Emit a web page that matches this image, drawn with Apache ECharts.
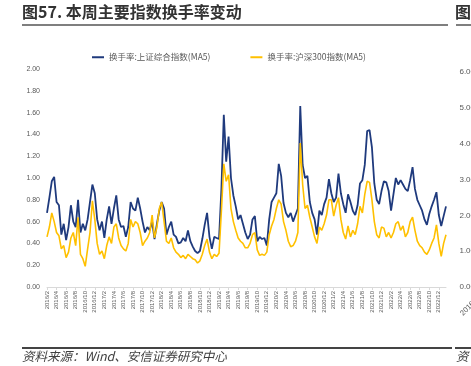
<!DOCTYPE html>
<html>
<head>
<meta charset="utf-8">
<script src="https://cdn.jsdelivr.net/npm/echarts@6.0.0/dist/echarts.min.js"></script>
<style>
    html, body { margin: 0; padding: 0; background: #fff; }
    #turnover-chart { width: 471px; height: 366px; }
</style>
</head>
<body>
<div id="turnover-chart"></div>
<script>
const BLUE_COLOR = '#1f3a7d';
const YELLOW_COLOR = '#ffc000';
const LABEL_COLOR = '#595959';

/* Half-month points, 2016/2 .. 2023/1. */
let first_year = 2016, first_month = 2, month_count = 84;
let categories = [];
for (let i = 0; i < month_count; i++) {
    let y = first_year + Math.floor((first_month - 1 + i) / 12);
    let m = (first_month - 1 + i) % 12 + 1;
    categories.push(y + '/' + m + '/1', y + '/' + m + '/16');
}

let series_names = ['换手率:上证综合指数(MA5)', '换手率:沪深300指数(MA5)'];

let sh_composite = [
    0.68, 0.82, 0.97, 1.01, 0.78, 0.75, 0.48, 0.58, 0.43, 0.55,
    0.75, 0.60, 0.55, 0.80, 0.50, 0.58, 0.52, 0.62, 0.78, 0.94,
    0.86, 0.62, 0.52, 0.60, 0.45, 0.62, 0.74, 0.58, 0.72, 0.84,
    0.62, 0.55, 0.56, 0.46, 0.55, 0.78, 0.72, 0.70, 0.82, 0.72,
    0.60, 0.50,
    0.55, 0.52, 0.60, 0.44, 0.58, 0.70, 0.78, 0.72, 0.48, 0.55,
    0.60, 0.48, 0.46, 0.40, 0.41, 0.45, 0.42, 0.52, 0.42, 0.37,
    0.33, 0.31, 0.33, 0.44, 0.57, 0.68, 0.46, 0.35, 0.46, 0.45,
    0.44, 0.90, 1.58, 1.15, 1.38, 1.00, 0.84, 0.74, 0.62, 0.66,
    0.58, 0.50,
    0.44, 0.48, 0.62, 0.65, 0.42, 0.46, 0.44, 0.45, 0.38, 0.62,
    0.78, 0.82, 0.86, 1.13, 1.02, 0.77, 0.68, 0.64, 0.68, 0.60,
    0.66, 0.72, 1.66, 1.12, 1.00, 1.02, 0.78, 0.68, 0.62, 0.48,
    0.70, 0.66, 0.76, 0.82, 0.99, 0.86, 0.78, 0.82, 1.04, 0.86,
    0.76,
    0.68, 0.85, 0.78, 0.70, 0.66, 0.75, 0.95, 0.98, 1.12, 1.43,
    1.44, 1.28, 0.95, 0.80, 0.76, 0.88, 0.97, 0.96, 0.88, 0.70,
    0.85, 1.00, 0.94, 0.98, 0.94, 0.90, 0.88, 0.98, 1.10, 0.90,
    0.80, 0.75, 0.70, 0.62, 0.57, 0.67, 0.74, 0.80, 0.87, 0.66,
    0.56, 0.65, 0.74
];

let hs300 = [
    0.46, 0.55, 0.68, 0.60, 0.50, 0.47, 0.35, 0.38, 0.27, 0.32,
    0.45, 0.50, 0.38, 0.64, 0.30, 0.26, 0.19, 0.35, 0.50, 0.79,
    0.62, 0.40, 0.30, 0.33, 0.26, 0.38, 0.46, 0.40, 0.55, 0.58,
    0.45, 0.38, 0.35, 0.33, 0.40, 0.62, 0.55, 0.60, 0.58, 0.50,
    0.38, 0.42,
    0.45, 0.50, 0.66, 0.45, 0.55, 0.72, 0.78, 0.60, 0.42, 0.40,
    0.45, 0.36, 0.32, 0.30, 0.27, 0.29, 0.26, 0.30, 0.28, 0.26,
    0.25, 0.22, 0.24, 0.30, 0.38, 0.44, 0.32, 0.26, 0.30, 0.28,
    0.31, 0.70, 1.13, 0.97, 1.03, 0.72, 0.60, 0.52, 0.45, 0.42,
    0.40, 0.36,
    0.36, 0.40, 0.48, 0.50, 0.34, 0.29, 0.30, 0.29, 0.32, 0.48,
    0.56, 0.62, 0.72, 0.80, 0.76, 0.60, 0.52, 0.42, 0.37, 0.38,
    0.42, 0.50, 1.32, 0.94, 0.72, 0.75, 0.64, 0.55, 0.46, 0.40,
    0.55, 0.52, 0.58, 0.66, 0.80, 0.80, 0.65, 0.75, 0.82, 0.62,
    0.50,
    0.44, 0.56, 0.46, 0.52, 0.48, 0.58, 0.74, 0.68, 0.85, 0.97,
    0.96, 0.80, 0.60, 0.48, 0.45, 0.55, 0.54, 0.46, 0.50, 0.45,
    0.50, 0.58, 0.60, 0.52, 0.56, 0.46, 0.50, 0.60, 0.64, 0.52,
    0.42, 0.38, 0.36, 0.32, 0.30, 0.34, 0.40, 0.45, 0.57, 0.40,
    0.28, 0.40, 0.48
];

/* The next figure on the page, cut off at the right edge. */
let next_categories = ['2016-02', '2016-03', '2016-04'];

let turnover_chart = echarts.init(document.getElementById('turnover-chart'));

let option = {
    animation: false,
    color: [BLUE_COLOR, YELLOW_COLOR],
    textStyle: { fontFamily: '"Liberation Sans", "Noto Sans CJK SC", sans-serif' },
    legend: {
        data: series_names,
        left: 92,
        top: 53,
        padding: 0,
        icon: 'rect',
        itemWidth: 12,
        itemHeight: 2,
        itemGap: 40,
        textStyle: { fontSize: 8.5, color: LABEL_COLOR, fontFamily: '"Noto Sans CJK SC"' }
    },
    grid: [
        { left: 47, right: 25, top: 69, bottom: 79 },
        { left: 481, width: 200, top: 72, bottom: 79 }
    ],
    xAxis: [
        {
            type: 'category',
            data: categories,
            boundaryGap: false,
            axisLine: { lineStyle: { color: '#d9d9d9' } },
            axisTick: { interval: 3, length: 3, lineStyle: { color: '#d9d9d9' } },
            axisLabel: {
                interval: 3,
                rotate: 90,
                fontSize: 6,
                margin: 4,
                color: LABEL_COLOR,
                formatter: function (value) {
                    return value.split('/').slice(0, 2).join('/');
                }
            }
        },
        {
            gridIndex: 1,
            type: 'category',
            data: next_categories,
            boundaryGap: false,
            axisLine: { show: false },
            axisTick: { show: false },
            axisLabel: { rotate: 45, fontSize: 7.5, color: LABEL_COLOR }
        }
    ],
    yAxis: [
        {
            type: 'value',
            min: 0,
            max: 2,
            interval: 0.2,
            splitLine: { show: false },
            axisLabel: {
                fontSize: 7,
                margin: 7,
                color: LABEL_COLOR,
                formatter: function (v) { return v.toFixed(2); }
            }
        },
        {
            gridIndex: 1,
            type: 'value',
            min: 0,
            max: 6,
            interval: 1,
            splitLine: { show: false },
            axisLabel: {
                fontSize: 8,
                margin: 6,
                color: LABEL_COLOR,
                formatter: function (v) { return v.toFixed(2); }
            }
        }
    ],
    series: [
        {
            name: series_names[0],
            type: 'line',
            data: sh_composite,
            symbol: 'none',
            lineStyle: { width: 1.8 }
        },
        {
            name: series_names[1],
            type: 'line',
            data: hs300,
            symbol: 'none',
            lineStyle: { width: 1.6 }
        }
    ],
    graphic: [
        {
            type: 'text', left: 22, top: 4,
            style: { text: '图57. 本周主要指数换手率变动', font: 'bold 16px "Noto Sans CJK SC"', fill: '#333' }
        },
        {
            type: 'text', left: 455, top: 4,
            style: { text: '图', font: 'bold 16px "Noto Sans CJK SC"', fill: '#333' }
        },
        { type: 'line', shape: { x1: 22, y1: 25, x2: 448, y2: 25 }, style: { stroke: '#555', lineWidth: 1.5 } },
        { type: 'line', shape: { x1: 456, y1: 25, x2: 471, y2: 25 }, style: { stroke: '#555', lineWidth: 1.5 } },
        { type: 'line', shape: { x1: 22, y1: 348, x2: 452, y2: 348 }, style: { stroke: '#444', lineWidth: 2 } },
        { type: 'line', shape: { x1: 455, y1: 348, x2: 471, y2: 348 }, style: { stroke: '#444', lineWidth: 2 } },
        {
            type: 'text', left: 22, top: 350,
            style: { text: '资料来源：Wind、安信证券研究中心', font: 'italic 12.5px "Noto Sans CJK SC"', fill: '#404040' }
        },
        {
            type: 'text', left: 456, top: 350,
            style: { text: '资', font: 'italic 12.5px "Noto Sans CJK SC"', fill: '#404040' }
        }
    ]
};
turnover_chart.setOption(option);

window.addEventListener('resize', function () {
    turnover_chart.resize();
});
</script>
</body>
</html>
